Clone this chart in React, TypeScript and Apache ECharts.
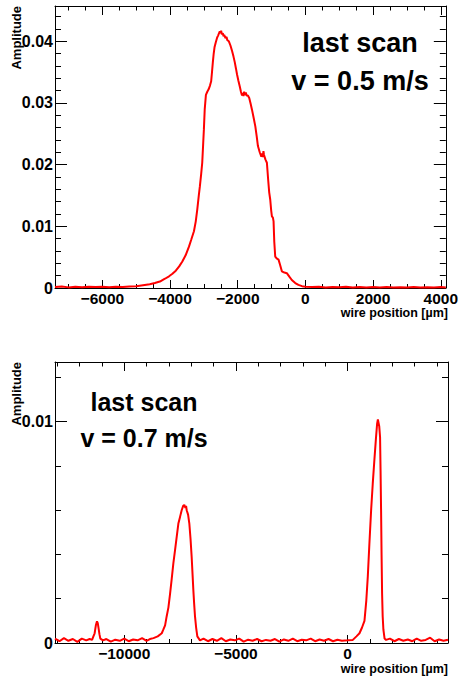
import React, { useEffect, useRef } from "react";
import * as echarts from "echarts";

// ---- Top panel: v = 0.5 m/s ----
const topPositions = [
  -7400, -7200, -7000, -6800, -6600, -6400, -6200, -6000, -5800, -5600, -5400, -5200, -5000,
  -4800, -4600, -4450, -4300, -4150, -4030, -3930, -3830, -3730, -3637, -3540, -3441, -3370,
  -3294, -3240, -3196, -3150, -3118, -3080, -3049, -3020, -3000, -2975, -2940, -2900, -2860,
  -2820, -2785, -2760, -2735, -2710, -2686, -2650, -2608, -2580, -2560, -2530, -2510, -2490,
  -2470, -2440, -2420, -2400, -2362, -2330, -2310, -2265, -2215, -2167, -2125, -2088, -2050,
  -2020, -1980, -1941, -1905, -1873, -1850, -1830, -1810, -1790, -1760, -1740, -1700, -1660,
  -1620, -1579, -1530, -1480, -1440, -1403, -1350, -1303, -1280, -1260, -1240, -1225, -1180,
  -1138, -1100, -1070, -1039, -1010, -990, -960, -941, -920, -892, -850, -794, -745, -696,
  -620, -549, -470, -402, -300, -206, -100, 0, 200, 400, 600, 800, 1000, 1200, 1400, 1600,
  1800, 2000, 2200, 2400, 2600, 2800, 3000, 3200, 3400, 3600, 3800, 4000, 4150,
];
const topAmplitudes = [
  0.00015, 0.00025, 0.0001, 0.0002, 0.00012, 0.00022, 0.00015, 0.0002, 0.00012, 0.00022, 0.00018, 0.00025, 0.0003,
  0.00045, 0.0006, 0.0008, 0.00105, 0.0015, 0.0019, 0.0023, 0.0028, 0.0035, 0.0043, 0.0053, 0.0067, 0.0079,
  0.0092, 0.0108, 0.0127, 0.015, 0.0165, 0.0185, 0.0203, 0.0235, 0.0257, 0.029, 0.0313, 0.0318, 0.0322,
  0.0328, 0.0335, 0.035, 0.0366, 0.038, 0.039, 0.0398, 0.0406, 0.0409, 0.0412, 0.0416, 0.0413, 0.0417,
  0.0411, 0.0413, 0.0408, 0.041, 0.0405, 0.0407, 0.0402, 0.04, 0.0393, 0.0384, 0.0375, 0.0366, 0.0355,
  0.0346, 0.0336, 0.0327, 0.0318, 0.0312, 0.0316, 0.0311, 0.0318, 0.0313, 0.0317, 0.0312, 0.0312, 0.0308,
  0.0299, 0.0289, 0.0276, 0.0262, 0.0246, 0.023, 0.022, 0.0213, 0.0218, 0.0212, 0.0222, 0.0216, 0.0208,
  0.0203, 0.0175, 0.0155, 0.0143, 0.0125, 0.0116, 0.0114, 0.0108, 0.0075, 0.0051, 0.0048, 0.0046, 0.0037, 0.0027,
  0.0025, 0.0024, 0.0018, 0.0013, 0.0008, 0.0005, 0.0003, 0.0002, 0.00015, 0.0002, 0.0001, 0.00018, 0.00012, 0.0002, 0.0001, 0.00016,
  0.00008, 0.00015, 0.0001, 0.00018, 0.00008, 0.00014, 0.0001, 0.00016, 0.00008, 0.00012, 0.0001, 0.00015, 0.0001,
];

// ---- Bottom panel: v = 0.7 m/s ----
const bottomPositions = [
  -13100, -12900, -12700, -12500, -12300, -12100, -11900, -11700, -11550, -11440, -11380, -11325, -11270,
  -11220, -11185, -11148, -11110, -11070, -10950, -10800, -10600, -10400, -10200, -10000, -9800, -9600,
  -9400, -9200, -9000, -8850, -8690, -8500, -8318, -8250, -8170, -8100, -8022, -7950, -7873, -7800,
  -7724, -7650, -7575, -7500, -7427, -7360, -7308, -7260, -7230, -7202, -7140, -7084, -7030, -6980,
  -6940, -6905, -6870, -6830, -6780, -6726, -6607, -6450, -6250, -6050, -5850, -5650, -5450, -5250,
  -5050, -4850, -4650, -4450, -4250, -4050, -3850, -3650, -3450, -3250, -3050, -2850, -2650, -2450,
  -2250, -2050, -1850, -1650, -1450, -1250, -1050, -850, -650, -450, -250, 0, 238, 400, 536, 650,
  759, 840, 908, 980, 1057, 1130, 1205, 1270, 1324, 1360, 1384, 1420, 1458, 1480, 1503, 1525, 1548,
  1575, 1607, 1660, 1726, 1900, 2100, 2300, 2500, 2700, 2900, 3100, 3300, 3500, 3700, 3900, 4100,
  4300, 4500,
];
const bottomAmplitudes = [
  0.0002, 0.00008, 0.00022, 0.0001, 0.00018, 0.00005, 0.0002, 0.00012, 0.00018, 0.00014, 0.0003, 0.00044, 0.0008,
  0.00098, 0.0009, 0.00066, 0.0004, 0.0002, 0.00012, 0.00018, 0.00006, 0.00015, 0.0001, 0.0002, 0.00008, 0.00016,
  0.00012, 0.00022, 0.0001, 0.00018, 0.00022, 0.0003, 0.00044, 0.0006, 0.0008, 0.0012, 0.0016, 0.0022, 0.0029, 0.0036,
  0.0042, 0.0048, 0.0054, 0.0057, 0.006, 0.0062, 0.00624, 0.0061, 0.0062, 0.006, 0.0058, 0.0054, 0.0047, 0.0039,
  0.0031, 0.0024, 0.0018, 0.0012, 0.0007, 0.0003, 0.00012, 0.0002, 0.00008, 0.00018, 0.0001, 0.00022, 0.00008, 0.00016,
  0.00012, 0.0002, 0.00006, 0.00015, 0.0001, 0.00018, 0.00008, 0.00014, 0.0001, 0.00018, 0.00006, 0.00016, 0.0001, 0.0002,
  0.00008, 0.00015, 0.00012, 0.0002, 0.00008, 0.00016, 0.0001, 0.00018, 0.00008, 0.00015, 0.0001, 0.00012, 0.00014, 0.0003, 0.00044, 0.0007,
  0.001, 0.0019, 0.003, 0.0045, 0.006, 0.0072, 0.0083, 0.0092, 0.0099, 0.0101, 0.0101, 0.0098, 0.0093, 0.0078, 0.006, 0.004, 0.00225,
  0.0012, 0.0006, 0.0002, 0.00014, 0.0002, 0.00008, 0.00018, 0.0001, 0.00016, 0.00008, 0.0002, 0.0001, 0.00014, 0.00024, 0.00008, 0.00016,
  0.0001, 0.00015,
];

const topXTicks = { min: -7400, max: 4150, step: 2000, minorSplit: 4 };
const topYTicks = { min: 0, max: 0.0457, step: 0.01, minorSplit: 5 };
const bottomXTicks = { min: -13100, max: 4500, step: 5000, minorSplit: 5 };
const bottomYTicks = { min: 0, max: 0.0127, step: 0.01, minorSplit: 5 };

const FONT = '"Liberation Sans", Arial, Helvetica, sans-serif';
const BLACK = "#000000";

const isMultiple = (v: number, step: number) =>
  Math.abs(v / step - Math.round(v / step)) < 1e-6;

const fmtX = (step: number) => (v: number) => {
  if (!isMultiple(v, step)) return "";
  if (v === 0) return "0";
  return v < 0 ? "\u2212" + Math.abs(v) : String(v);
};
const fmtY = (step: number) => (v: number) => {
  if (!isMultiple(v, step)) return "";
  if (Math.abs(v) < 1e-12) return "0";
  return v.toFixed(2);
};

function xAxes(grid: number, t: typeof topXTicks) {
  const common = {
    type: "value",
    gridIndex: grid,
    min: t.min,
    max: t.max,
    minInterval: t.step,
    maxInterval: t.step,
    splitLine: { show: false },
    axisLine: { show: true, onZero: false, lineStyle: { color: BLACK, width: 1 } },
  };
  return [
    {
      ...common,
      position: "bottom",
      axisTick: { show: true, inside: true, length: 8, lineStyle: { color: BLACK, width: 1 } },
      minorTick: { show: true, splitNumber: t.minorSplit, length: 4, lineStyle: { color: BLACK, width: 1 } },
      axisLabel: {
        show: true,
        margin: 4,
        color: BLACK,
        fontFamily: FONT,
        fontWeight: "bold",
        fontSize: 15.5,
        lineHeight: 12,
        showMinLabel: false,
        showMaxLabel: false,
        formatter: fmtX(t.step),
      },
    },
    {
      ...common,
      position: "top",
      axisTick: { show: true, inside: true, length: 9, lineStyle: { color: BLACK, width: 1 } },
      minorTick: { show: true, splitNumber: t.minorSplit, length: 4.5, lineStyle: { color: BLACK, width: 1 } },
      axisLabel: { show: false },
    },
  ];
}

function yAxes(grid: number, t: typeof topYTicks) {
  const common = {
    type: "value",
    gridIndex: grid,
    min: t.min,
    max: t.max,
    interval: t.step,
    splitLine: { show: false },
    axisLine: { show: true, onZero: false, lineStyle: { color: BLACK, width: 1 } },
    axisTick: { show: true, inside: true, length: 12, lineStyle: { color: BLACK, width: 1 } },
    minorTick: { show: true, splitNumber: t.minorSplit, length: 6, lineStyle: { color: BLACK, width: 1 } },
  };
  return [
    {
      ...common,
      position: "left",
      axisLabel: {
        show: true,
        margin: 2,
        color: BLACK,
        fontFamily: FONT,
        fontWeight: "bold",
        fontSize: 16,
        showMaxLabel: false,
        formatter: fmtY(t.step),
      },
    },
    { ...common, position: "right", axisLabel: { show: false } },
  ];
}

const textEl = (
  text: string,
  x: number,
  y: number,
  size: number,
  align: string,
  rotation = 0,
  lineHeight?: number
) => ({
  type: "text",
  x,
  y,
  rotation,
  silent: true,
  style: {
    text,
    fill: BLACK,
    font: `bold ${size}px ${FONT}`,
    textAlign: align,
    textVerticalAlign: "middle",
    verticalAlign: "middle",
    ...(lineHeight ? { lineHeight } : {}),
  },
});

export default function App() {
  const ref = useRef<HTMLDivElement>(null);
  useEffect(() => {
    if (!ref.current) return;
    const chart = echarts.init(ref.current, undefined, { renderer: "svg" });
    const lineStyle = { color: "#ff0000", width: 2 };
    chart.setOption({
      animation: false,
      backgroundColor: "#ffffff",
      grid: [
        { left: 55, top: 6, width: 393, height: 282, containLabel: false },
        { left: 55, top: 362, width: 393, height: 281, containLabel: false },
      ],
      xAxis: [...xAxes(0, topXTicks), ...xAxes(1, bottomXTicks)],
      yAxis: [...yAxes(0, topYTicks), ...yAxes(1, bottomYTicks)],
      series: [
        {
          type: "line",
          xAxisIndex: 0,
          yAxisIndex: 0,
          showSymbol: false,
          symbol: "none",
          clip: true,
          lineStyle,
          data: topPositions.map((x, i) => [x, topAmplitudes[i]]),
        },
        {
          type: "line",
          xAxisIndex: 2,
          yAxisIndex: 2,
          showSymbol: false,
          symbol: "none",
          clip: true,
          lineStyle,
          data: bottomPositions.map((x, i) => [x, bottomAmplitudes[i]]),
        },
      ],
      graphic: [
        textEl("Amplitude", 16, 6, 13, "right", Math.PI / 2),
        textEl("Amplitude", 16, 362, 13, "right", Math.PI / 2),
        textEl("wire position [\u00b5m]", 448, 313, 12.5, "right", 0, 10),
        textEl("wire position [\u00b5m]", 448, 669, 12.5, "right", 0, 10),
        textEl("last scan", 360, 42.7, 27, "center"),
        textEl("v = 0.5 m/s", 360, 81.2, 27, "center"),
        textEl("last scan", 144, 402, 25, "center"),
        textEl("v = 0.7 m/s", 144, 438.3, 25, "center"),
      ],
    });
    return () => chart.dispose();
  }, []);
  return (
    <div
      ref={ref}
      style={{ position: "absolute", left: 0, top: 0, width: 461, height: 676 }}
    />
  );
}
